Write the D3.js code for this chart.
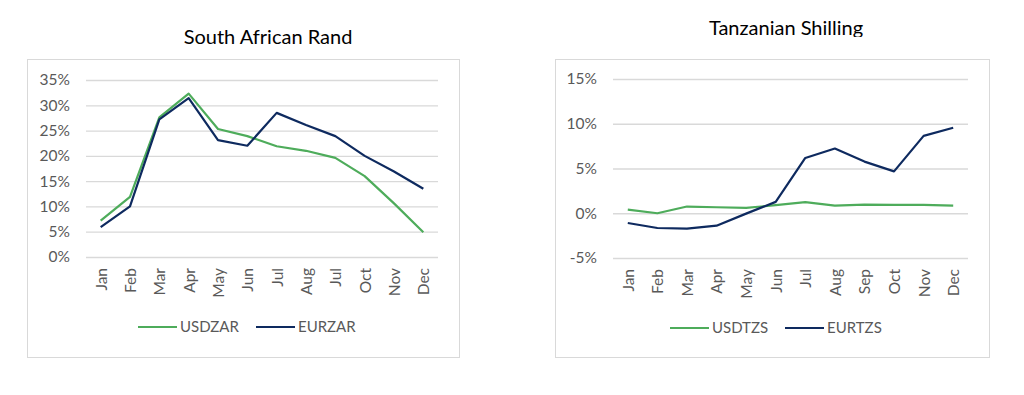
<!DOCTYPE html>
<html><head><meta charset="utf-8">
<script src="https://cdn.jsdelivr.net/npm/d3@7"></script>
<style>body{margin:0;background:#fff}svg{display:block}</style>
</head><body>
<svg id="c" width="1024" height="395"></svg>
<script>
const zarMonths = ["Jan","Feb","Mar","Apr","May","Jun","Jul","Aug","Jul","Oct","Nov","Dec"];
const tzsMonths = ["Jan","Feb","Mar","Apr","May","Jun","Jul","Aug","Sep","Oct","Nov","Dec"];
const usdzar = [7.2, 11.9, 27.6, 32.3, 25.3, 23.9, 21.9, 21.0, 19.6, 16.0, 10.6, 4.9];
const eurzar = [5.9, 10.0, 27.2, 31.4, 23.1, 22.0, 28.5, 26.1, 23.9, 20.0, 16.9, 13.5];
const usdtzs = [0.41, 0.0, 0.75, 0.67, 0.6, 0.9, 1.24, 0.86, 0.97, 0.94, 0.94, 0.86];
const eurtzs = [-1.09, -1.65, -1.72, -1.39, -0.04, 1.27, 6.18, 7.23, 5.77, 4.68, 8.65, 9.55];
const zarTicks = [0, 5, 10, 15, 20, 25, 30, 35];
const tzsTicks = [-5, 0, 5, 10, 15];
const zarNames = ["USDZAR", "EURZAR"];
const tzsNames = ["USDTZS", "EURTZS"];
const colors = ["#4eac5b", "#0e2a5f"];

const svg = d3.select("#c");
const font = "Lato, 'Liberation Sans', sans-serif";

function chart(o) {
  const g = svg.append("g");
  g.append("rect").attr("x", o.box[0]+0.5).attr("y", o.box[1]+0.5)
    .attr("width", o.box[2]-o.box[0]).attr("height", o.box[3]-o.box[1])
    .attr("fill", "none").attr("stroke", "#d9d9d9").attr("stroke-width", 1);
  const x = d3.scalePoint().domain(d3.range(o.months.length)).range([o.plot[0], o.plot[1]]).padding(0.5);
  const y = d3.scaleLinear().domain([o.ticks[0], o.ticks[o.ticks.length-1]]).range([o.plot[3], o.plot[2]]);
  // grid
  const ya = d3.axisLeft(y).tickValues(o.ticks).tickSize(-(o.plot[1]-o.plot[0])).tickFormat(d => d + "%").tickPadding(16);
  const ay = g.append("g").attr("transform", `translate(${o.plot[0]},0)`).call(ya);
  ay.select(".domain").remove();
  ay.selectAll(".tick line").attr("stroke", "#d9d9d9").attr("stroke-width", 1.3);
  ay.selectAll(".tick text").attr("fill", "#595959").style("font-family", font).style("font-size", "15.5px");
  // x axis
  const xa = d3.axisBottom(x).tickSize(0).tickFormat(i => o.months[i]);
  const ax = g.append("g").attr("transform", `translate(0,${o.plot[3]})`).call(xa);
  ax.select(".domain").remove();
  ax.selectAll(".tick text").attr("fill", "#595959").style("font-family", font).style("font-size", "15.5px")
    .attr("text-anchor", "end").attr("transform", "rotate(-90)").attr("x", -o.xlabOff).attr("y", 0).attr("dy", "0.35em");
  // lines
  const line = d3.line().x((d, i) => x(i)).y(d => y(d));
  o.series.forEach((s, k) => {
    g.append("path").datum(s).attr("d", line).attr("fill", "none")
      .attr("stroke", colors[k]).attr("stroke-width", 2.2).attr("stroke-linejoin", "round");
  });
  // legend
  o.names.forEach((n, k) => {
    const lx = o.legend[k];
    g.append("line").attr("x1", lx).attr("x2", lx + 39).attr("y1", o.legY).attr("y2", o.legY)
      .attr("stroke", colors[k]).attr("stroke-width", 2.2);
    g.append("text").attr("x", lx + 42).attr("y", o.legY).attr("dy", "0.35em")
      .attr("fill", "#595959").style("font-family", font).style("font-size", "15px").text(n);
  });
  // title
  const t = g.append("text").attr("x", o.title[0]).attr("y", o.title[1]).attr("text-anchor", "middle")
    .attr("fill", "#000").style("font-family", font).style("font-size", "20px").text(o.titleText);
  if (o.clipY) {
    svg.append("defs").append("clipPath").attr("id", "tclip").append("rect")
      .attr("x", 0).attr("y", 0).attr("width", 1024).attr("height", o.clipY);
    t.attr("clip-path", "url(#tclip)");
  }
}

chart({box: [27, 59, 459, 357], plot: [86, 438, 80, 257], ticks: zarTicks, months: zarMonths,
  series: [usdzar, eurzar], names: zarNames, legend: [138, 256], legY: 327, xlabOff: 11,
  title: [268, 44], titleText: "South African Rand"});
chart({box: [555, 59, 989, 357], plot: [613, 968, 79, 258], ticks: tzsTicks, months: tzsMonths,
  series: [usdtzs, eurtzs], names: tzsNames, legend: [670, 785], legY: 328, xlabOff: 11,
  title: [786, 35], titleText: "Tanzanian Shilling", clipY: 37});
</script>
</body></html>
